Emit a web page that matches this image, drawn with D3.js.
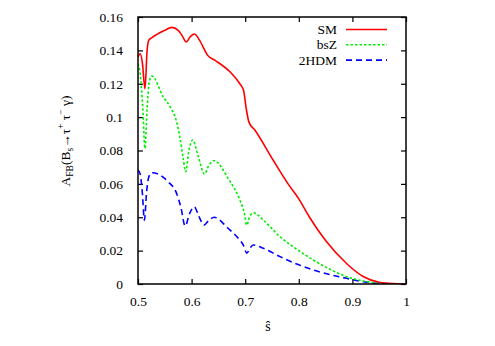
<!DOCTYPE html>
<html><head><meta charset="utf-8">
<script src="https://cdn.jsdelivr.net/npm/d3@7"></script>
<style>body{margin:0;background:#fff}svg{display:block}text{font-family:"Liberation Serif","Times New Roman","DejaVu Serif",serif;fill:#000}</style>
</head><body>
<svg id="c" width="495" height="346"></svg>
<script>
const xTicks=[0.5,0.6,0.7,0.8,0.9,1];
const yTicks=[0,0.02,0.04,0.06,0.08,0.1,0.12,0.14,0.16];
const xTickLabels=["0.5","0.6","0.7","0.8","0.9","1"];
const yTickLabels=["0","0.02","0.04","0.06","0.08","0.1","0.12","0.14","0.16"];
const seriesNames=["SM","bsZ","2HDM"];
const smX=[0.5,0.504,0.508,0.513,0.517,0.52,0.526,0.55,0.563,0.575,0.582,0.59,0.597,0.605,0.615,0.623,0.63,0.644,0.672,0.69,0.697,0.702,0.707,0.718,0.752,0.78,0.8,0.82,0.85,0.89,0.92,0.95,0.975,1.0];
const smY=[0.136,0.138,0.133,0.117,0.140,0.146,0.1476,0.152,0.1538,0.152,0.149,0.145,0.148,0.1498,0.146,0.141,0.137,0.134,0.127,0.120,0.116,0.105,0.097,0.0923,0.0743,0.060,0.051,0.040,0.026,0.012,0.0045,0.001,0.0002,0];
const bszX=[0.5,0.504,0.509,0.513,0.517,0.521,0.526,0.547,0.56,0.572,0.578,0.584,0.589,0.595,0.602,0.612,0.624,0.632,0.642,0.668,0.69,0.698,0.703,0.708,0.715,0.737,0.765,0.8,0.827,0.86,0.889,0.92,0.945,0.97,1.0];
const bszY=[0.132,0.126,0.105,0.0813,0.105,0.121,0.1246,0.1122,0.1062,0.0972,0.0882,0.076,0.0673,0.080,0.0863,0.077,0.0659,0.071,0.0739,0.0633,0.0503,0.043,0.0353,0.040,0.0427,0.0373,0.0283,0.020,0.0144,0.0085,0.0044,0.0018,0.0006,0.0001,0];
const hdmX=[0.5,0.504,0.508,0.512,0.516,0.52,0.526,0.556,0.572,0.58,0.588,0.596,0.605,0.613,0.623,0.632,0.642,0.668,0.687,0.697,0.703,0.708,0.715,0.734,0.765,0.8,0.827,0.86,0.889,0.927,0.96,1.0];
const hdmY=[0.0683,0.066,0.055,0.0383,0.055,0.064,0.0667,0.0613,0.0543,0.046,0.0347,0.042,0.0463,0.041,0.0353,0.038,0.040,0.0334,0.0274,0.023,0.0184,0.021,0.0234,0.0214,0.0164,0.0115,0.0084,0.0055,0.0034,0.001,0.0002,0];

const L=138,R=406,T=17,B=284;
const FONT='"Liberation Serif","Times New Roman","DejaVu Serif",serif';
const svg=d3.select("#c");
const x=d3.scaleLinear().domain([0.5,1]).range([L,R]);
const y=d3.scaleLinear().domain([0,0.16]).range([B,T]);
const tk=5;
const g=svg.append("g");
function styleAxis(a){a.attr("font-family",FONT);a.select(".domain").remove();a.selectAll("line").attr("stroke","#000").attr("stroke-width",1.2);a.selectAll("text").attr("font-size",13.5).attr("fill","#000").style("font-family",FONT);}
g.append("g").attr("transform",`translate(0,${B})`).call(d3.axisBottom(x).tickValues(xTicks).tickSize(-tk).tickFormat((d,i)=>xTickLabels[i]).tickPadding(12)).call(styleAxis);
g.append("g").attr("transform",`translate(0,${T})`).call(d3.axisTop(x).tickValues(xTicks).tickSize(-tk).tickFormat("")).call(styleAxis);
g.append("g").attr("transform",`translate(${L},0)`).call(d3.axisLeft(y).tickValues(yTicks).tickSize(-tk).tickFormat((d,i)=>yTickLabels[i]).tickPadding(15)).call(styleAxis);
g.append("g").attr("transform",`translate(${R},0)`).call(d3.axisRight(y).tickValues(yTicks).tickSize(-tk).tickFormat("")).call(styleAxis);

const series=[
 {name:seriesNames[0],xs:smX,ys:smY,color:"#ff0000",dash:null,w:1.6},
 {name:seriesNames[1],xs:bszX,ys:bszY,color:"#00ee00",dash:"2.5,2",w:1.6},
 {name:seriesNames[2],xs:hdmX,ys:hdmY,color:"#0000ff",dash:"6,4",w:1.6}
];
const line=d3.line().x(d=>x(d[0])).y(d=>y(d[1])).curve(d3.curveMonotoneX);
svg.append("clipPath").attr("id","pc").append("rect").attr("x",L).attr("y",T).attr("width",R-L).attr("height",B-T);
series.slice().reverse().forEach(s=>{
 svg.append("path").datum(s.xs.map((v,i)=>[v,s.ys[i]])).attr("d",line).attr("fill","none")
  .attr("stroke",s.color).attr("stroke-width",s.w).attr("stroke-dasharray",s.dash).attr("clip-path","url(#pc)");
});
svg.append("rect").attr("x",L).attr("y",T).attr("width",R-L).attr("height",B-T).attr("fill","none").attr("stroke","#000").attr("stroke-width",1.5);
series.forEach((s,i)=>{
 const ly=29.5+i*15.3;
 svg.append("text").attr("x",337).attr("y",ly+4.5).attr("text-anchor","end").attr("font-size",13.5).text(s.name);
 svg.append("line").attr("x1",346).attr("x2",387).attr("y1",ly).attr("y2",ly).attr("stroke",s.color).attr("stroke-width",s.w).attr("stroke-dasharray",s.dash);
});
svg.append("text").attr("x",268).attr("y",331).attr("text-anchor","middle").attr("font-size",14).text("\u015d");
const yl=svg.append("text").attr("transform","translate(70,141) rotate(-90)").attr("text-anchor","middle").attr("font-size",13.5);
yl.append("tspan").text("A");
yl.append("tspan").attr("font-size",9.5).attr("dy",3).text("FB");
yl.append("tspan").attr("dy",-3).text("(B");
yl.append("tspan").attr("font-size",9.5).attr("dy",3).text("s");
yl.append("tspan").attr("dy",-3).text("\u2192\u03c4");
yl.append("tspan").attr("font-size",9.5).attr("dy",-6).text("+");
yl.append("tspan").attr("dy",6).text(" \u03c4");
yl.append("tspan").attr("font-size",9.5).attr("dy",-6).text("\u2212");
yl.append("tspan").attr("dy",6).text(" \u03b3)");
</script>
</body></html>
